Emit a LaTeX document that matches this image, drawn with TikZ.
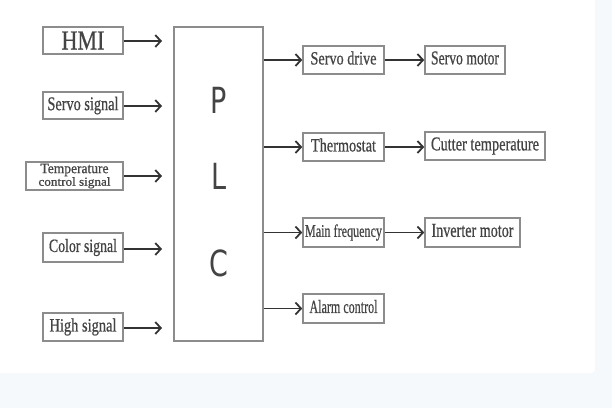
\documentclass[tikz,border=0pt]{standalone}
\usepackage{fontspec}
\usepackage{graphicx}
\setmainfont[FakeBold=0.7]{Liberation Serif}
\newfontfamily\plcfont[FakeStretch=0.75]{DejaVu Sans}
\usetikzlibrary{arrows.meta}
\definecolor{bgblue}{HTML}{F5F9FC}
\definecolor{boxline}{HTML}{8C8C8C}
\definecolor{txt}{HTML}{444444}
\definecolor{arr}{HTML}{333333}
\newcommand\fitt[3]{\resizebox{#1pt}{#2pt}{#3\vphantom{gy}}}
\newcommand\fitn[3]{\resizebox{#1pt}{#2pt}{#3}}
\tikzset{
  blk/.style={draw=boxline, line width=1.6pt, text=txt, inner sep=0pt},
  conn/.style={draw=arr, line width=1.8pt, -{Straight Barb[length=5.5pt,width=12pt,line width=1.8pt]}},
}
\begin{document}
\begin{tikzpicture}[x=1pt,y=-1pt]
\useasboundingbox (0,0) rectangle (612,408);
\fill[bgblue] (0,0) rectangle (612,408);
\fill[white, rounded corners=4pt] (-10,-10) rectangle (595,373);
% inputs
\node[blk, minimum width=80pt, minimum height=27pt] (hmi) at (83,40.5) {\fitn{43}{18}{HMI}};
\node[blk, minimum width=80pt, minimum height=27pt] (servo) at (83,105.5) {\fitt{71}{13.5}{Servo signal}};
\node[blk, minimum width=97pt, minimum height=28pt, align=center, font=\fontsize{10}{11}\selectfont] (temp) at (74.5,176) {\fitn{68}{9.5}{Temperature}\\\fitn{72}{8.5}{control signal}};
\node[blk, minimum width=80pt, minimum height=29pt] (color) at (83,247.5) {\fitt{68}{13}{Color signal}};
\node[blk, minimum width=80pt, minimum height=28pt] (high) at (83,327) {\fitt{67}{13}{High signal}};
% PLC
\node[blk, minimum width=89pt, minimum height=314pt] (plc) at (218.5,184) {};
\node[text=txt, font=\plcfont\fontsize{36}{36}\selectfont, inner sep=0pt] (p) at (219,100) {P};
\node[text=txt, font=\plcfont\fontsize{36}{36}\selectfont, inner sep=0pt] (l) at (219,176) {L};
\node[text=txt, font=\plcfont\fontsize{36}{36}\selectfont, inner sep=0pt] (c) at (219,263) {C};
\coordinate (i1) at (162,41);
\coordinate (i2) at (162,106);
\coordinate (i3) at (162,176);
\coordinate (i4) at (162,249);
\coordinate (i5) at (162,328);
\draw[conn] (hmi.east |- i1) -- (i1);
\draw[conn] (servo.east |- i2) -- (i2);
\draw[conn] (temp.east |- i3) -- (i3);
\draw[conn] (color.east |- i4) -- (i4);
\draw[conn] (high.east |- i5) -- (i5);
% outputs
\node[blk, minimum width=81pt, minimum height=28pt] (sd) at (343.5,60) {\fitt{66}{13}{Servo drive}};
\node[blk, minimum width=80pt, minimum height=28pt] (sm) at (465,60) {\fitt{68}{13}{Servo motor}};
\node[blk, minimum width=81pt, minimum height=28pt] (th) at (343.5,147) {\fitt{65}{13}{Thermostat}};
\node[blk, minimum width=120pt, minimum height=28pt] (ct) at (485,146) {\fitt{108}{13}{Cutter temperature}};
\node[blk, minimum width=81pt, minimum height=29pt] (mf) at (343.5,232.5) {\fitt{77}{12.5}{Main frequency}};
\node[blk, minimum width=95pt, minimum height=29pt] (im) at (472.5,232.5) {\fitt{82}{13}{Inverter motor}};
\node[blk, minimum width=81pt, minimum height=29pt] (al) at (343.5,308.5) {\fitt{68}{13}{Alarm control}};
\draw[conn] (plc.east |- sd) -- (sd.west);
\draw[conn] (plc.east |- th) -- (th.west);
\draw[conn] (plc.east |- mf) -- (mf.west);
\draw[conn] (plc.east |- al) -- (al.west);
\draw[conn] (sd.east) -- (sm.west);
\draw[conn] (th.east) -- (th.east -| ct.west);
\draw[conn] (mf.east) -- (im.west);
\end{tikzpicture}
\end{document}
